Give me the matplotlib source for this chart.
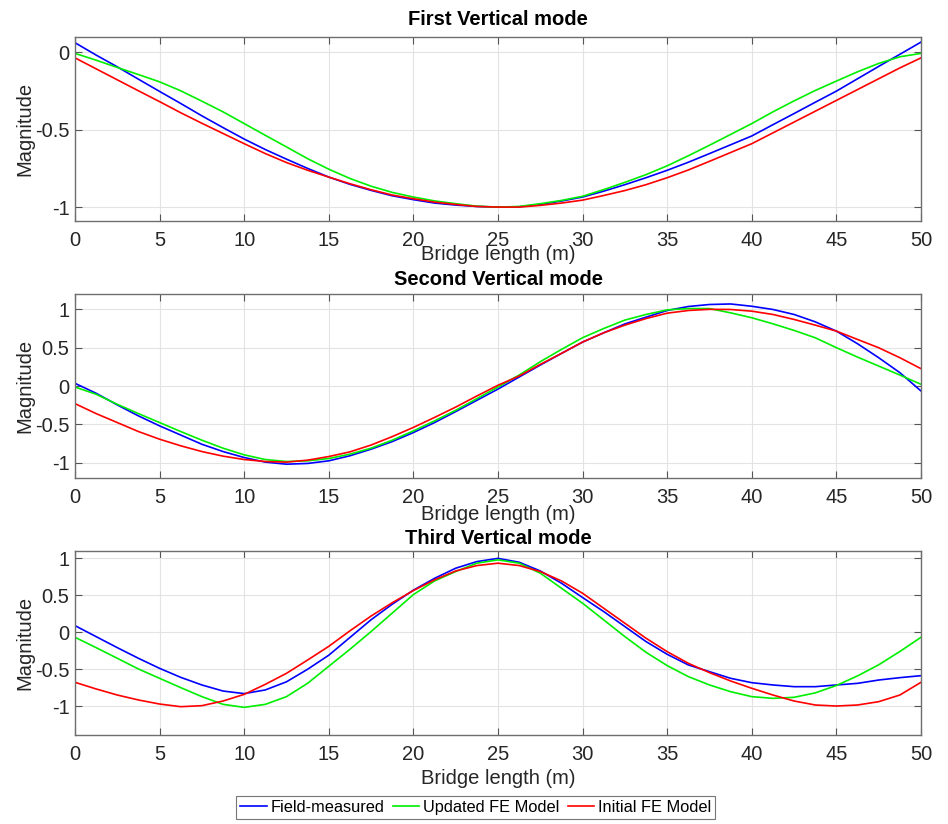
import numpy as np
import matplotlib
matplotlib.use("Agg")
import matplotlib.pyplot as plt
from matplotlib.lines import Line2D

plt.rcParams['font.family'] = ['Liberation Sans', 'DejaVu Sans']

# Bridge length positions (m)
x = [0, 1.25, 2.5, 3.75, 5, 6.25, 7.5, 8.75, 10, 11.25, 12.5, 13.75, 15, 16.25, 17.5, 18.75,
     20, 21.25, 22.5, 23.75, 25, 26.25, 27.5, 28.75, 30, 31.25, 32.5, 33.75, 35, 36.25,
     37.5, 38.75, 40, 41.25, 42.5, 43.75, 45, 46.25, 47.5, 48.75, 50]

titles = ["First Vertical mode", "Second Vertical mode", "Third Vertical mode"]
series_names = ["Field-measured", "Updated FE Model", "Initial FE Model"]

# Mode 1
m1_field = [0.063, -0.017, -0.093, -0.173, -0.252, -0.33, -0.41, -0.486, -0.56, -0.628, -0.69,
            -0.75, -0.806, -0.853, -0.892, -0.927, -0.952, -0.974, -0.987, -0.996, -1.0,
            -0.998, -0.983, -0.961, -0.935, -0.897, -0.855, -0.81, -0.762, -0.71, -0.654,
            -0.597, -0.54, -0.467, -0.395, -0.322, -0.25, -0.17, -0.09, -0.012, 0.067]
m1_updated = [-0.006, -0.05, -0.097, -0.143, -0.19, -0.248, -0.315, -0.384, -0.46, -0.536, -0.611,
              -0.687, -0.755, -0.815, -0.865, -0.905, -0.935, -0.96, -0.978, -0.994, -1.0,
              -0.996, -0.978, -0.957, -0.93, -0.887, -0.84, -0.79, -0.733, -0.668, -0.60,
              -0.53, -0.46, -0.384, -0.313, -0.246, -0.185, -0.125, -0.071, -0.028, -0.006]
m1_initial = [-0.035, -0.106, -0.177, -0.248, -0.318, -0.39, -0.458, -0.524, -0.59, -0.654, -0.712,
              -0.762, -0.806, -0.849, -0.888, -0.922, -0.946, -0.968, -0.983, -0.996, -1.0,
              -1.0, -0.989, -0.974, -0.955, -0.925, -0.893, -0.855, -0.81, -0.76, -0.704,
              -0.647, -0.59, -0.52, -0.45, -0.38, -0.31, -0.24, -0.17, -0.10, -0.035]

# Mode 2
m2_field = [0.035, -0.095, -0.247, -0.39, -0.52, -0.64, -0.76, -0.855, -0.933, -0.993, -1.02,
            -1.01, -0.976, -0.91, -0.824, -0.725, -0.607, -0.477, -0.334, -0.187, -0.04,
            0.117, 0.273, 0.425, 0.573, 0.694, 0.81, 0.898, 0.985, 1.037, 1.063,
            1.07, 1.04, 0.998, 0.933, 0.837, 0.716, 0.551, 0.369, 0.174, -0.065]
m2_updated = [-0.013, -0.108, -0.239, -0.36, -0.477, -0.594, -0.707, -0.811, -0.898, -0.959, -0.985,
              -0.976, -0.946, -0.889, -0.811, -0.707, -0.586, -0.455, -0.317, -0.165, -0.013,
              0.143, 0.317, 0.477, 0.63, 0.75, 0.86, 0.933, 0.993, 1.01, 1.01,
              0.954, 0.89, 0.811, 0.725, 0.629, 0.50, 0.377, 0.26, 0.143, 0.022]
m2_initial = [-0.23, -0.36, -0.477, -0.594, -0.694, -0.78, -0.855, -0.915, -0.959, -0.985, -0.993,
              -0.967, -0.92, -0.859, -0.77, -0.66, -0.54, -0.41, -0.275, -0.13, 0.01,
              0.13, 0.282, 0.425, 0.573, 0.694, 0.794, 0.88, 0.95, 0.985, 1.0,
              0.998, 0.976, 0.933, 0.868, 0.794, 0.716, 0.607, 0.499, 0.369, 0.226]

# Mode 3
m3_field = [0.09, -0.059, -0.208, -0.352, -0.488, -0.61, -0.713, -0.795, -0.83, -0.78, -0.67,
            -0.50, -0.31, -0.07, 0.17, 0.38, 0.57, 0.73, 0.867, 0.957, 1.0,
            0.948, 0.83, 0.664, 0.47, 0.28, 0.077, -0.126, -0.298, -0.442, -0.533,
            -0.623, -0.682, -0.713, -0.736, -0.736, -0.713, -0.691, -0.646, -0.614, -0.587]
m3_updated = [-0.068, -0.208, -0.352, -0.497, -0.623, -0.749, -0.871, -0.975, -1.016, -0.975, -0.871,
              -0.69, -0.46, -0.23, 0.01, 0.26, 0.51, 0.695, 0.822, 0.935, 0.98,
              0.935, 0.80, 0.596, 0.393, 0.167, -0.059, -0.271, -0.451, -0.60, -0.713,
              -0.804, -0.871, -0.894, -0.88, -0.82, -0.72, -0.59, -0.44, -0.26, -0.068]
m3_initial = [-0.677, -0.767, -0.849, -0.916, -0.971, -1.007, -0.993, -0.93, -0.84, -0.704, -0.555,
              -0.375, -0.19, 0.02, 0.22, 0.40, 0.565, 0.71, 0.83, 0.903, 0.935,
              0.903, 0.822, 0.695, 0.528, 0.325, 0.122, -0.081, -0.262, -0.42, -0.546,
              -0.659, -0.758, -0.849, -0.93, -0.984, -0.998, -0.984, -0.939, -0.849, -0.677]

modes = [(m1_field, m1_updated, m1_initial),
         (m2_field, m2_updated, m2_initial),
         (m3_field, m3_updated, m3_initial)]
ylims = [(-1.09, 0.1), (-1.2, 1.2), (-1.39, 1.1)]
yticks = [[-1, -0.5, 0], [-1, -0.5, 0, 0.5, 1], [-1, -0.5, 0, 0.5, 1]]
xticks = [0, 5, 10, 15, 20, 25, 30, 35, 40, 45, 50]
colors = ["#0000ff", "#00ee00", "#ff0000"]

fig = plt.figure(figsize=(9.48, 8.24), dpi=100)
W, H = 948, 824
boxes = [(37, 221), (294, 478), (551, 735)]
title_pads = [8.5, 6.5, 5.0]
xlabel_off = [34, 36, 43]
left, right = 75, 921
FS = 14.5

for i, (top, bot) in enumerate(boxes):
    ax = fig.add_axes([left / W, 1 - bot / H, (right - left) / W, (bot - top) / H])
    for s, c in zip(modes[i], colors):
        ax.plot(x, s, color=c, lw=1.2)
    ax.set_xlim(0, 50)
    ax.set_ylim(*ylims[i])
    ax.set_xticks(xticks)
    ax.set_yticks(yticks[i])
    ax.set_yticklabels([f"{v:g}" for v in yticks[i]])
    ax.grid(True, color="#e3e3e3", lw=0.8)
    ax.set_axisbelow(True)
    ax.tick_params(direction="in", length=5, width=0.8, color="#555555",
                   labelsize=FS, labelcolor="#262626", top=True, right=True)
    ax.tick_params(axis="x", pad=7)
    ax.tick_params(axis="y", pad=4)
    for sp in ax.spines.values():
        sp.set_color("#6e6e6e")
        sp.set_linewidth(1.0)
    ax.set_title(titles[i], fontsize=FS, fontweight="bold", pad=title_pads[i])
    ax.set_xlabel("Bridge length (m)", fontsize=FS, color="#262626")
    ax.xaxis.label.set_va("center")
    ax.xaxis.set_label_coords(0.5, -xlabel_off[i] / (bot - top))
    ax.set_ylabel("Magnitude", fontsize=FS, color="#262626")
    ax.yaxis.label.set_va("center")
    ax.yaxis.set_label_coords(-(left - 25) / (right - left), 0.5)

handles = [Line2D([0], [0], color=c, lw=1.2) for c in colors]
leg = fig.legend(handles, series_names, loc="center", bbox_to_anchor=(0.502, 1 - 807.5 / H),
                 ncol=3, fontsize=11.8, frameon=True, fancybox=False,
                 handlelength=1.6, handletextpad=0.25, columnspacing=0.5,
                 borderpad=0.25, borderaxespad=0)
leg.get_frame().set_edgecolor("#555555")
leg.get_frame().set_linewidth(0.8)

fig.savefig("out.png", dpi=100)
